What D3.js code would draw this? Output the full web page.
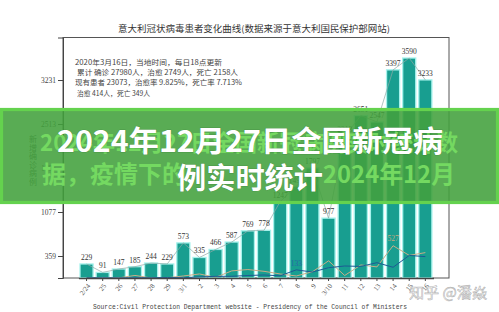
<!DOCTYPE html>
<html><head><meta charset="utf-8">
<script src="https://cdn.jsdelivr.net/npm/d3@7"></script>
<style>html,body{margin:0;padding:0;background:#fff;overflow:hidden}</style>
</head><body><svg id="c" width="499" height="312"></svg>
<script>
const categories = ["2/24","25","26","27","28","29","3/1","2","3","4","5","6","7","8","9","3/10","11","12","13","14","15","16"];
const newCases = [229,91,147,185,244,229,573,335,466,587,769,778,1247,1492,1797,977,2313,2651,2547,3397,3590,3233];
const recovered = [0,0,2,42,1,4,33,66,11,116,138,109,66,33,102,280,41,213,181,527,369,414];
const deaths = [4,3,2,5,4,8,5,18,27,28,41,49,36,133,97,168,196,189,250,175,368,349];
const yTicks = [359,1077,1795,2513,3231];
const titleText = "意大利冠状病毒患者变化曲线(数据来源于意大利国民保护部网站)";
const noteLines = ["2020年3月16日，当地时间，每日18点更新","累计 确诊 27980人，治愈 2749人，死亡 2158人","现有患者 23073，治愈率 9.825%，死亡率 7.713%","治愈 414人，死亡 349人"];
const yTitle = "新增确诊病例";
const sourceText = "Source:Civil Protection Department website - Presidency of the Council of Ministers";
const bannerLines = ["2024年12月27日全国新冠病","例实时统计"];
const bannerBack1 = "2024年12月27日全国新冠病例实时统计数";
const bannerBack2a = "据，疫情下的";
const bannerBack2b = "2024年12月";
const watermark = "知乎 @潘焱";
const deathLabelIdx = [13];
const recLabelIdx = [19];

const svg = d3.select("#c");
const serif = "'Liberation Serif','DejaVu Serif',serif";
const cjk = "'Noto Sans CJK SC','Noto Sans',sans-serif";

const x = d3.scaleBand().domain(categories).range([78.4,433.5]).paddingInner(0.19).paddingOuter(0.1);
const y = d3.scaleLinear().domain([0,3925]).range([278,37.5]);
const cx = d => x(d) + x.bandwidth()/2;

// title
svg.append("text").attr("x",254).attr("y",32).attr("text-anchor","middle")
  .attr("font-family",cjk).attr("font-size",9).attr("fill","#333")
  .attr("textLength",272).attr("lengthAdjust","spacingAndGlyphs").text(titleText);

// frame
svg.append("rect").attr("x",63).attr("y",37.5).attr("width",386).attr("height",240.5)
  .attr("fill","none").attr("stroke","#555").attr("stroke-width",1);

// notes
const noteX=[75,77,75,77], noteY=[64.5,75,85,95.5], noteW=[147,161,167,73];
noteLines.forEach((t,i)=>{
  svg.append("text").attr("x",noteX[i]).attr("y",noteY[i]).attr("font-family",cjk)
    .attr("font-size",7.3).attr("fill","#444").attr("textLength",noteW[i])
    .attr("lengthAdjust","spacingAndGlyphs").text(t);
});

// y axis
const ya = svg.append("g").attr("transform","translate(63,0)")
  .call(d3.axisLeft(y).tickValues(yTicks).tickFormat(d3.format("d")).tickSize(5).tickPadding(2));
ya.select(".domain").attr("stroke","#444");
ya.selectAll(".tick line").attr("stroke","#444");
ya.selectAll("text").attr("font-family",serif).attr("font-size",7.5).attr("fill","#444");

// y title vertical
const yt = svg.append("text").attr("font-family",cjk).attr("font-size",8).attr("fill","#555").attr("text-anchor","middle");
yTitle.split("").forEach((ch,i)=>{ yt.append("tspan").attr("x",33).attr("y",142+i*8.5).text(ch); });

// bars
svg.append("g").selectAll("rect").data(newCases).join("rect")
  .attr("x",(d,i)=>x(categories[i])).attr("y",d=>y(d))
  .attr("width",x.bandwidth()).attr("height",d=>y(0)-y(d))
  .attr("fill","#189e90").attr("stroke","#a6f2ec").attr("stroke-width",1.3);

// line through bar tops
svg.append("path").datum(newCases)
  .attr("d",d3.line().x((d,i)=>cx(categories[i])).y(d=>y(d)))
  .attr("fill","none").attr("stroke","#8fa9a6").attr("stroke-width",0.7);

// recovered & deaths lines
svg.append("path").datum(recovered)
  .attr("d",d3.line().x((d,i)=>cx(categories[i])).y(d=>y(d)))
  .attr("fill","none").attr("stroke","#c8ad88").attr("stroke-width",1);
svg.append("path").datum(deaths)
  .attr("d",d3.line().x((d,i)=>cx(categories[i])).y(d=>y(d)))
  .attr("fill","none").attr("stroke","#1d5a94").attr("stroke-width",1);

deathLabelIdx.forEach(i=>{
  svg.append("text").attr("x",cx(categories[i])).attr("y",y(deaths[i])-4).attr("text-anchor","middle")
    .attr("font-family",serif).attr("font-size",7.5).attr("fill","#2866a6").text(deaths[i]);
});
recLabelIdx.forEach(i=>{
  svg.append("text").attr("x",cx(categories[i])).attr("y",y(recovered[i])-5).attr("text-anchor","middle")
    .attr("font-family",serif).attr("font-size",7.5).attr("fill","#c6a97f").text(recovered[i]);
});

// bar labels
svg.append("g").selectAll("text").data(newCases).join("text")
  .attr("x",(d,i)=>cx(categories[i])).attr("y",d=>y(d)-4).attr("text-anchor","middle")
  .attr("font-family",serif).attr("font-size",7.5).attr("fill","#333").text(d=>d);

// x axis
const xa = svg.append("g").attr("transform","translate(0,278)")
  .call(d3.axisBottom(x).tickSize(3).tickSizeOuter(0));
xa.select(".domain").attr("stroke","#444").attr("stroke-width",1.3);
xa.selectAll(".tick line").attr("stroke","#444");
xa.selectAll("text").attr("font-family",serif).attr("font-size",7).attr("fill","#555")
  .attr("text-anchor","end").attr("dy",0).attr("y",0)
  .attr("transform","translate(4,8) rotate(-52)");

// source
svg.append("text").attr("x",93).attr("y",309).attr("font-family","'Liberation Mono','DejaVu Sans Mono',monospace")
  .attr("font-size",6.4).attr("fill","#444").attr("textLength",314).attr("lengthAdjust","spacingAndGlyphs").text(sourceText);

// watermark
svg.append("text").attr("x",409).attr("y",298).attr("font-family",cjk).attr("font-size",15)
  .attr("fill","rgba(255,255,255,0.75)").attr("stroke","rgba(130,130,130,0.6)").attr("stroke-width",0.6)
  .attr("textLength",78).attr("lengthAdjust","spacingAndGlyphs").text(watermark);

// banner
const b = svg.append("g");
b.append("rect").attr("x",0).attr("y",108).attr("width",499).attr("height",96)
  .attr("fill","#42a03c").attr("opacity",0.88);
b.append("rect").attr("x",1.5).attr("y",109.5).attr("width",496).attr("height",93)
  .attr("fill","none").attr("stroke","#64d24e").attr("stroke-width",3.2);
b.append("text").attr("x",40).attr("y",141).attr("dominant-baseline","central")
  .attr("font-family",cjk).attr("font-weight",700).attr("font-size",23).attr("fill","#74d961")
  .attr("textLength",418).attr("lengthAdjust","spacingAndGlyphs").text(bannerBack1);
b.append("text").attr("x",42).attr("y",172).attr("dominant-baseline","central")
  .attr("font-family",cjk).attr("font-weight",700).attr("font-size",24).attr("fill","#74d961")
  .text(bannerBack2a);
b.append("text").attr("x",455).attr("y",172).attr("dominant-baseline","central").attr("text-anchor","end")
  .attr("font-family",cjk).attr("font-weight",700).attr("font-size",24).attr("fill","#74d961")
  .attr("textLength",132).attr("lengthAdjust","spacingAndGlyphs").text(bannerBack2b);
const wl=[{x:57,y:139,w:386},{x:177,y:176,w:146}];
bannerLines.forEach((t,i)=>{
  b.append("text").attr("x",wl[i].x).attr("y",wl[i].y).attr("dominant-baseline","central")
    .attr("font-family",cjk).attr("font-weight",700).attr("font-size",29).attr("fill","#fff")
    .attr("stroke","rgba(30,80,30,0.25)").attr("stroke-width",1).attr("paint-order","stroke")
    .attr("textLength",wl[i].w).attr("lengthAdjust","spacingAndGlyphs").text(t);
});
</script></body></html>
